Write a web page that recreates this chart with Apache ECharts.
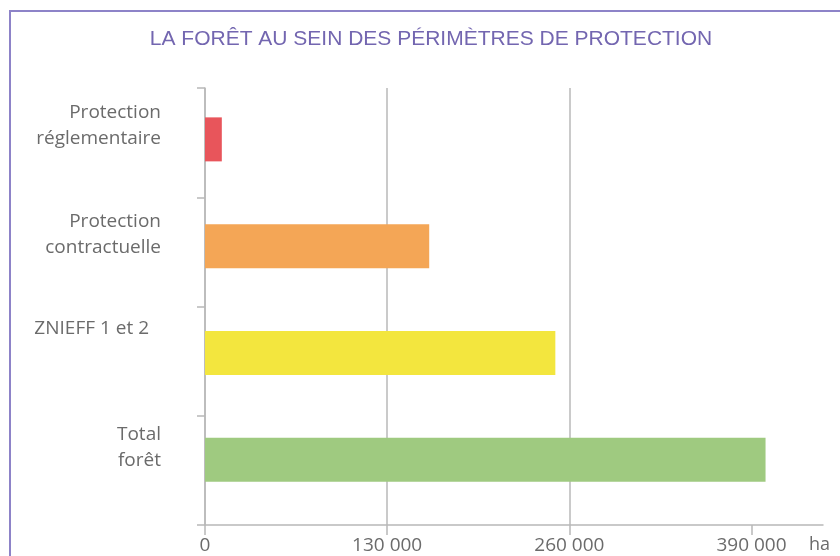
<!DOCTYPE html>
<html>
<head>
<meta charset="utf-8">
<script src="https://cdn.jsdelivr.net/npm/echarts@6/dist/echarts.min.js"></script>
<style>
  html, body { margin: 0; padding: 0; background: #fff; }
  #chart { width: 840px; height: 556px; position: absolute; left: 0; top: 0; }
  #frame { position: absolute; left: 9px; top: 10px; width: 900px; height: 600px;
           border-left: 2px solid #8d83c8; border-top: 2px solid #8d83c8; pointer-events: none; }
</style>
</head>
<body>
<div id="chart"></div>
<div id="frame"></div>
<script>
const titleText = 'LA FORÊT AU SEIN DES PÉRIMÈTRES DE PROTECTION';
const categories = ['Protection\nréglementaire', 'Protection\ncontractuelle', 'ZNIEFF 1 et 2', 'Total\nforêt'];
const values = [12000, 160000, 250000, 400000];
const barColors = ['#e8555b', '#f4a656', '#f3e63e', '#9fca80'];
const tickValues = [0, 130000, 260000, 390000];
const unitLabel = 'ha';

// label nudges (style only): extra blank space under each label, right inset
const labelGap = [34, 34, 66, 46];
const labelInset = [0, 0, 12, 0];

const chart = echarts.init(document.getElementById('chart'), null, { renderer: 'canvas' });
const fontFam = '"Open Sans", sans-serif';
const textColor = '#6b6b6b';
const gray = '#b8b8b8';
const xMax = 441000;

const rich = {};
labelGap.forEach((g, i) => {
  rich['t' + i] = { fontFamily: fontFam, fontSize: 19, color: textColor, lineHeight: 26, padding: [0, labelInset[i], 0, 0] };
  rich['g' + i] = { fontSize: 1, lineHeight: g, height: g };
});

chart.setOption({
  animation: false,
  backgroundColor: '#fff',
  title: {
    text: titleText,
    left: 426,
    textAlign: 'center',
    top: 24,
    textStyle: { fontFamily: '"Liberation Sans", Arial, sans-serif', fontWeight: 'normal', fontSize: 21, color: '#7366b0' }
  },
  grid: [
    { left: 205, right: 17, top: 88, bottom: 31, containLabel: false },
    { left: 205, right: 17, top: 86, bottom: 43, containLabel: false }
  ],
  xAxis: [{
    type: 'value',
    gridIndex: 0,
    min: 0,
    max: xMax,
    interval: 130000,
    name: unitLabel,
    nameLocation: 'end',
    nameGap: -14,
    nameTextStyle: { fontFamily: fontFam, fontSize: 18, color: textColor, align: 'left', verticalAlign: 'top', padding: [11, 0, 0, 0] },
    axisLine: { show: true, lineStyle: { color: gray, width: 1.5 } },
    axisTick: { show: true, length: 10, inside: false, customValues: tickValues, lineStyle: { color: gray, width: 1.5 } },
    axisLabel: {
      customValues: tickValues,
      margin: 11,
      fontFamily: fontFam, fontSize: 19, color: textColor,
      formatter: v => String(v).replace(/\B(?=(\d{3})+(?!\d))/g, ' ')
    },
    splitLine: { show: true, showMaxLine: false, lineStyle: { color: gray, width: 1.5 } }
  }, {
    type: 'value',
    gridIndex: 1,
    min: 0,
    max: xMax,
    show: false
  }],
  yAxis: [{
    type: 'category',
    gridIndex: 0,
    inverse: true,
    data: categories,
    axisLine: { show: true, lineStyle: { color: gray, width: 1.5 } },
    axisTick: { show: true, length: 8, alignWithLabel: false, lineStyle: { color: gray, width: 1.5 } },
    axisLabel: {
      interval: 0,
      margin: 44,
      align: 'right',
      fontFamily: fontFam, fontSize: 19, color: textColor,
      formatter: (v, i) => v.split('\n').map(l => '{t' + i + '|' + l + '}').join('\n') + '\n{g' + i + '| }',
      rich: rich
    },
    splitLine: { show: false }
  }, {
    type: 'category',
    gridIndex: 1,
    inverse: true,
    data: categories,
    show: false
  }],
  series: [{
    type: 'bar',
    xAxisIndex: 1,
    yAxisIndex: 1,
    data: values.map((v, i) => ({ value: v, itemStyle: { color: barColors[i] } })),
    barWidth: 44
  }]
});
</script>
</body>
</html>
